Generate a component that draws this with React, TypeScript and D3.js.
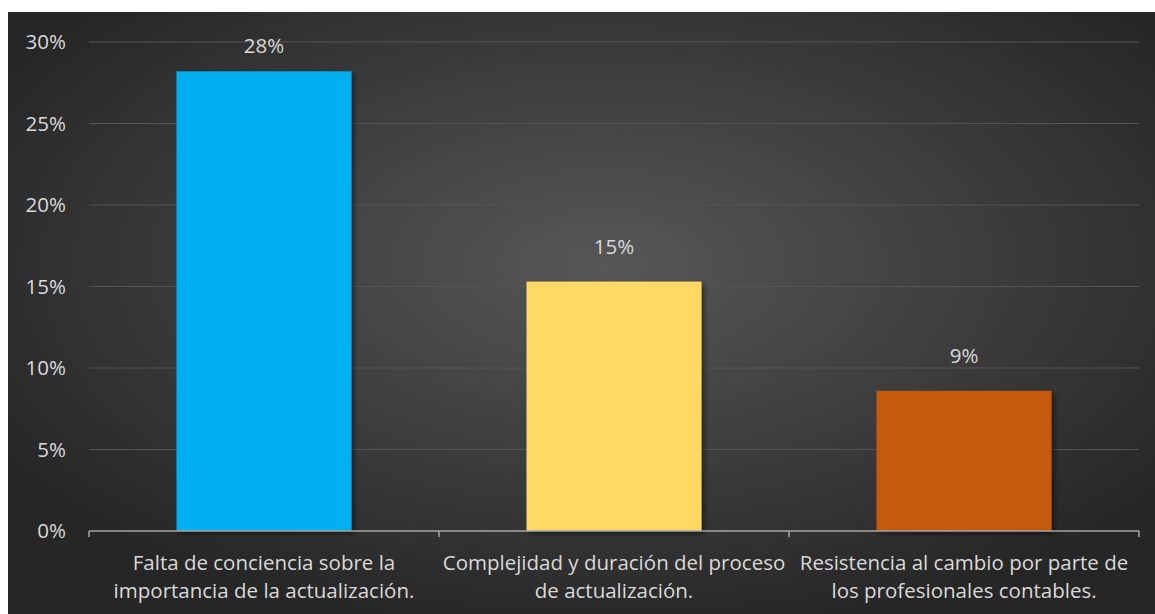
import { useMemo } from 'react';
import * as d3 from 'd3';

const categories = [
  ['Falta de conciencia sobre la', 'importancia de la actualización.'],
  ['Complejidad y duración del proceso', 'de actualización.'],
  ['Resistencia al cambio por parte de', 'los profesionales contables.'],
];
const values = [0.282, 0.153, 0.086];
const labels = ['28%', '15%', '9%'];
const barColors = ['#00b0f0', '#ffd966', '#c55a11'];
const yTicks = [0, 0.05, 0.1, 0.15, 0.2, 0.25, 0.3];

const W = 1155;
const H = 614;
const TEXT = '#d9d9d9';
const FONT = '"Open Sans", sans-serif';
const FS = 20.5;

export default function App() {
  const plot = { left: 89, right: 1139, top: 42, bottom: 531 };

  const x = useMemo(
    () =>
      d3
        .scaleBand<number>()
        .domain(d3.range(values.length))
        .range([plot.left, plot.right])
        .paddingInner(0.5)
        .paddingOuter(0.25),
    [],
  );
  const y = useMemo(() => d3.scaleLinear().domain([0, 0.3]).range([plot.bottom, plot.top]), []);
  const step = x.step();

  return (
    <svg
      width={W}
      height={H}
      style={{ position: 'absolute', left: 0, top: 0 }}
      fontFamily={FONT}
    >
      <defs>
        <radialGradient id="bg" cx="52%" cy="42%" r="62%" fx="52%" fy="42%">
          <stop offset="0%" stopColor="#575757" />
          <stop offset="100%" stopColor="#262626" />
        </radialGradient>
        <filter id="shadow" x="-10%" y="-10%" width="130%" height="130%">
          <feDropShadow dx="3" dy="3" stdDeviation="2.5" floodColor="#000" floodOpacity="0.45" />
        </filter>
      </defs>
      <rect x={8} y={12} width={W - 8} height={H - 12} fill="url(#bg)" />

      {yTicks.map((t) => (
        <g key={t}>
          {t > 0 && (
            <line x1={plot.left} x2={plot.right} y1={y(t)} y2={y(t)} stroke="#555" strokeWidth={1} />
          )}
          <text x={66} y={y(t)} dy="0.35em" textAnchor="end" fontSize={FS} fill={TEXT}>
            {d3.format('.0%')(t)}
          </text>
        </g>
      ))}

      {values.map((v, i) => {
        const bx = x(i)!;
        return (
          <rect
            key={i}
            x={bx}
            y={y(v)}
            width={x.bandwidth()}
            height={plot.bottom - y(v)}
            fill={barColors[i]}
            filter="url(#shadow)"
          />
        );
      })}

      <line x1={plot.left} x2={plot.right} y1={plot.bottom} y2={plot.bottom} stroke="#a6a6a6" strokeWidth={1.5} />
      {d3.range(values.length + 1).map((i) => {
        const tx = plot.left + i * step;
        return (
          <line key={i} x1={tx} x2={tx} y1={plot.bottom} y2={plot.bottom + 6} stroke="#a6a6a6" strokeWidth={1.5} />
        );
      })}

      {values.map((v, i) => {
        const cx = x(i)! + x.bandwidth() / 2;
        const ly = Math.max(y(v) - 28, plot.top + 11);
        return (
          <text key={i} x={cx} y={ly} textAnchor="middle" fontSize={FS} fill={TEXT}>
            {labels[i]}
          </text>
        );
      })}

      {categories.map((lines, i) => {
        const cx = x(i)! + x.bandwidth() / 2;
        return (
          <text key={i} x={cx} y={570} textAnchor="middle" fontSize={FS} fill={TEXT}>
            {lines.map((ln, j) => (
              <tspan key={j} x={cx} dy={j === 0 ? 0 : 28}>
                {ln}
              </tspan>
            ))}
          </text>
        );
      })}
    </svg>
  );
}
